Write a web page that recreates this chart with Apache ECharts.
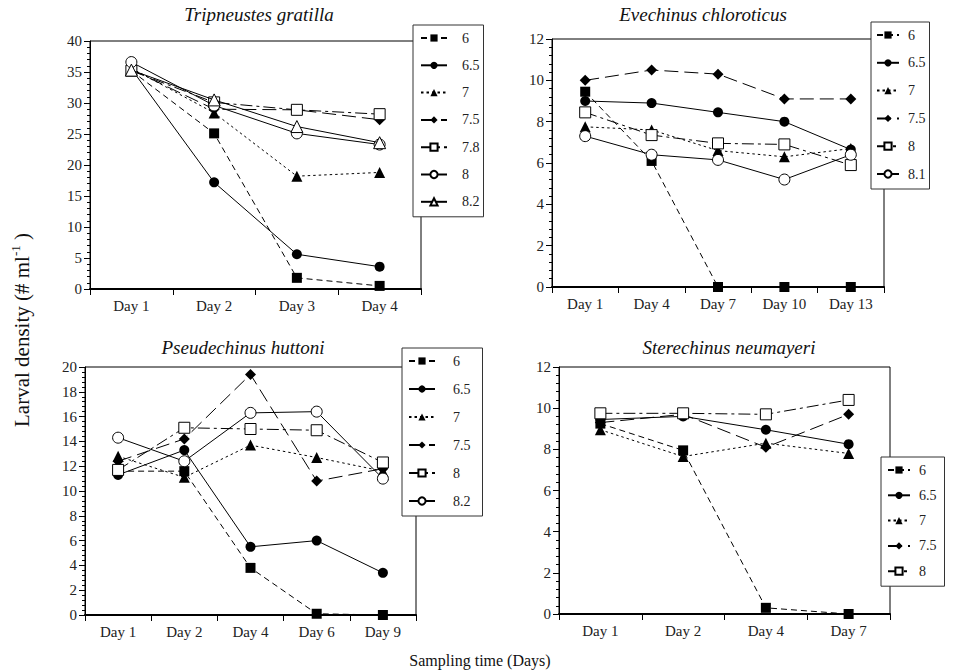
<!DOCTYPE html>
<html>
<head>
<meta charset="utf-8">
<script src="https://cdn.jsdelivr.net/npm/echarts@6/dist/echarts.min.js"></script>
<style>
html,body{margin:0;padding:0;background:#fff;}
#chart{width:960px;height:671px;}
</style>
</head>
<body>
<div id="chart"></div>
<script>
// ---------- DATA ----------
const p1Title = 'Tripneustes gratilla';
const p1Cats = ['Day 1', 'Day 2', 'Day 3', 'Day 4'];
const p1Names = ['6', '6.5', '7', '7.5', '7.8', '8', '8.2'];
const p1_6 = [35.2, 25.1, 1.8, 0.5];
const p1_65 = [35.5, 17.2, 5.6, 3.6];
const p1_7 = [35.6, 28.4, 18.2, 18.8];
const p1_75 = [35.4, 29.0, 28.9, 27.3];
const p1_78 = [35.2, 30.1, 28.9, 28.2];
const p1_8 = [36.6, 29.6, 25.1, 23.3];
const p1_82 = [35.3, 30.5, 26.2, 23.6];

const p2Title = 'Evechinus chloroticus';
const p2Cats = ['Day 1', 'Day 4', 'Day 7', 'Day 10', 'Day 13'];
const p2Names = ['6', '6.5', '7', '7.5', '8', '8.1'];
const p2_6 = [9.45, 6.1, 0, 0, 0];
const p2_65 = [9.0, 8.9, 8.45, 8.0, 6.65];
const p2_7 = [7.75, 7.6, 6.6, 6.3, 6.7];
const p2_75 = [10.0, 10.5, 10.3, 9.1, 9.1];
const p2_8 = [8.45, 7.35, 6.95, 6.9, 5.9];
const p2_81 = [7.3, 6.4, 6.15, 5.2, 6.4];

const p3Title = 'Pseudechinus huttoni';
const p3Cats = ['Day 1', 'Day 2', 'Day 4', 'Day 6', 'Day 9'];
const p3Names = ['6', '6.5', '7', '7.5', '8', '8.2'];
const p3_6 = [11.6, 11.6, 3.8, 0.1, 0];
const p3_65 = [11.3, 13.3, 5.5, 6.0, 3.4];
const p3_7 = [12.8, 11.1, 13.7, 12.7, 11.6];
const p3_75 = [12.4, 14.2, 19.4, 10.8, 11.8];
const p3_8 = [11.7, 15.1, 15.0, 14.9, 12.3];
const p3_82 = [14.3, 12.4, 16.3, 16.4, 11.0];

const p4Title = 'Sterechinus neumayeri';
const p4Cats = ['Day 1', 'Day 2', 'Day 4', 'Day 7'];
const p4Names = ['6', '6.5', '7', '7.5', '8'];
const p4_6 = [9.25, 7.95, 0.3, 0];
const p4_65 = [9.45, 9.6, 8.95, 8.25];
const p4_7 = [8.95, 7.65, 8.3, 7.8];
const p4_75 = [9.3, 9.7, 8.1, 9.7];
const p4_8 = [9.75, 9.75, 9.7, 10.4];

const yTitle = 'Larval density (# ml';
const xTitle = 'Sampling time (Days)';

// ---------- STYLES ----------
const FONT = '"Liberation Serif", "DejaVu Serif", serif';
const ST = {
  sq:  {symbol: 'rect', fill: '#000', size: 10, dash: [6, 4]},
  ci:  {symbol: 'circle', fill: '#000', size: 10, dash: 'solid'},
  tr:  {symbol: 'triangle', fill: '#000', size: 11, dash: [2.5, 3]},
  di:  {symbol: 'diamond', fill: '#000', size: 11, dash: [14, 6]},
  osq: {symbol: 'rect', fill: '#fff', size: 11, dash: [12, 4, 3, 4]},
  oci: {symbol: 'circle', fill: '#fff', size: 11, dash: 'solid'},
  otr: {symbol: 'triangle', fill: '#fff', size: 12, dash: 'solid'}
};

const panels = [
  {title: p1Title, cats: p1Cats, names: p1Names, data: [p1_6, p1_65, p1_7, p1_75, p1_78, p1_8, p1_82],
   st: ['sq', 'ci', 'tr', 'di', 'osq', 'oci', 'otr'], max: 40, interval: 5,
   grid: {left: 90, top: 41, width: 331, height: 248}, titlePos: [259, 14],
   legend: {left: 413, top: 25, gap: 13.3, padL: 7, w: 26, tp: 10, padR: 4}},
  {title: p2Title, cats: p2Cats, names: p2Names, data: [p2_6, p2_65, p2_7, p2_75, p2_8, p2_81],
   st: ['sq', 'ci', 'tr', 'di', 'osq', 'oci'], max: 12, interval: 2,
   grid: {left: 552, top: 39, width: 332, height: 248}, titlePos: [703, 14],
   legend: {left: 871, top: 22, gap: 13.8, padL: 5, w: 22, tp: 4, padR: 4}},
  {title: p3Title, cats: p3Cats, names: p3Names, data: [p3_6, p3_65, p3_7, p3_75, p3_8, p3_82],
   st: ['sq', 'ci', 'tr', 'di', 'osq', 'oci'], max: 20, interval: 2,
   grid: {left: 85, top: 367, width: 331, height: 248}, titlePos: [243, 347],
   legend: {left: 402, top: 348, gap: 14, padL: 6, w: 26, tp: 13, padR: 12}},
  {title: p4Title, cats: p4Cats, names: p4Names, data: [p4_6, p4_65, p4_7, p4_75, p4_8],
   st: ['sq', 'ci', 'tr', 'di', 'osq'], max: 12, interval: 2,
   grid: {left: 559, top: 367, width: 331, height: 247}, titlePos: [729, 347],
   legend: {left: 881, top: 457, gap: 11.3, padL: 6, w: 22, tp: 4, padR: 8}}
];

const grids = [], xAxes = [], yAxes = [], series = [], legends = [], graphics = [];
panels.forEach(function (p, i) {
  grids.push(Object.assign({show: true, borderColor: '#000', borderWidth: 1, backgroundColor: 'transparent'}, p.grid));
  xAxes.push({
    type: 'category', gridIndex: i, data: p.cats, boundaryGap: true,
    axisLine: {lineStyle: {color: '#000', width: 2}},
    axisTick: {show: true, inside: false, length: 6, lineStyle: {color: '#000'}},
    axisLabel: {fontFamily: FONT, fontSize: 15, color: '#222', margin: 9},
    splitLine: {show: false}
  });
  yAxes.push({
    type: 'value', gridIndex: i, min: 0, max: p.max, interval: p.interval,
    axisLine: {show: true, lineStyle: {color: '#000', width: 1}},
    axisTick: {show: true, length: 6, lineStyle: {color: '#000'}},
    minorTick: {show: true, splitNumber: 5, length: 3, lineStyle: {color: '#000'}},
    axisLabel: {fontFamily: FONT, fontSize: 15, color: '#222', margin: 8},
    splitLine: {show: false}
  });
  const legendData = [];
  p.names.forEach(function (n, k) {
    const s = ST[p.st[k]];
    const sname = 'P' + (i + 1) + '|' + n;
    legendData.push(sname);
    series.push({
      type: 'line', name: sname, xAxisIndex: i, yAxisIndex: i,
      data: p.data[k], symbol: s.symbol, symbolSize: s.size, showAllSymbol: true,
      lineStyle: {color: '#000', width: 1, type: s.dash},
      itemStyle: {color: s.fill, borderColor: '#000', borderWidth: s.fill === '#fff' ? 1 : 0},
      emphasis: {disabled: true}, animation: false, z: 2 + k
    });
  });
  legends.push({
    data: legendData, orient: 'vertical', left: p.legend.left, top: p.legend.top,
    itemWidth: p.legend.w, itemHeight: 9, itemGap: p.legend.gap,
    padding: [6, p.legend.padR, 8, p.legend.padL],
    backgroundColor: '#fff', borderColor: '#333', borderWidth: 1, borderRadius: 0,
    selectedMode: false, z: 10,
    formatter: function (name) { return name.split('|')[1]; },
    textStyle: {fontFamily: FONT, fontSize: 14, lineHeight: 14, color: '#222', padding: [0, 0, 0, p.legend.tp]}
  });
  graphics.push({
    type: 'text', x: p.titlePos[0], y: p.titlePos[1], z: 20,
    style: {text: p.title, font: 'italic 19px ' + FONT, fill: '#111', align: 'center', verticalAlign: 'middle'}
  });
});

graphics.push({
  type: 'text', x: 22, y: 330, rotation: Math.PI / 2, z: 20,
  style: {
    text: yTitle + '{sup|-1}' + ' )', fontFamily: FONT, fontSize: 21, fill: '#111',
    align: 'center', verticalAlign: 'middle',
    rich: {sup: {fontFamily: FONT, fontSize: 13, fill: '#111', padding: [0, 0, 13, 0]}}
  }
});
graphics.push({
  type: 'text', x: 480, y: 660, z: 20,
  style: {text: xTitle, fontFamily: FONT, fontSize: 16, fill: '#111', align: 'center', verticalAlign: 'middle'}
});

const chart = echarts.init(document.getElementById('chart'), null, {renderer: 'svg'});
chart.setOption({
  animation: false,
  backgroundColor: '#fff',
  grid: grids, xAxis: xAxes, yAxis: yAxes, series: series, legend: legends, graphic: graphics
});
</script>
</body>
</html>
